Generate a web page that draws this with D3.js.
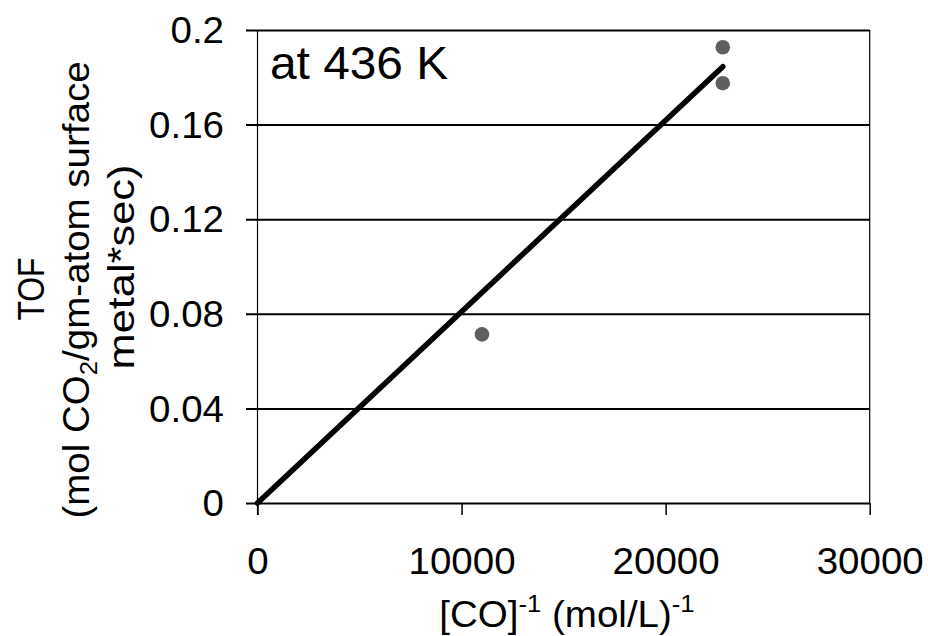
<!DOCTYPE html>
<html><head><meta charset="utf-8">
<script src="https://cdn.jsdelivr.net/npm/d3@7"></script>
<style>
body{margin:0;background:#fff}
svg{display:block}
text{font-family:"Liberation Sans",Arial,Helvetica,sans-serif;fill:#000}
</style>
</head><body>
<svg id="chart" width="928" height="636"></svg>
<script>
// ---- data ----
const pointX = [11000, 22800, 22800];
const pointY = [0.0713, 0.1927, 0.1775];
const trendX = [0, 22800];
const trendY = [0, 0.1845];
const xTicks = [0, 10000, 20000, 30000];
const xTickLabels = ["0", "10000", "20000", "30000"];
const yTicks = [0, 0.04, 0.08, 0.12, 0.16, 0.2];
const yTickLabels = ["0", "0.04", "0.08", "0.12", "0.16", "0.2"];
const annotationText = "at 436 K";

// ---- layout ----
const X0 = 257.5, X1 = 869.7, Y0 = 503, Y1 = 30;
const SX = 1.07;
const svg = d3.select("#chart");
const x = d3.scaleLinear().domain([0, 30000]).range([X0, X1]);
const y = d3.scaleLinear().domain([0, 0.2]).range([Y0, Y1]);

// gridlines (horizontal, extending left as ticks)
const grid = svg.append("g").attr("transform", `translate(${X0},0)`)
  .call(d3.axisLeft(y).tickValues(yTicks).tickSizeInner(-(X1 - X0)).tickSizeOuter(0).tickFormat(""));
grid.select(".domain").remove();
grid.selectAll(".tick line").attr("stroke", "#000").attr("stroke-width", 2).attr("x1", -11.5);

// y tick labels
const yAxis = svg.append("g").attr("transform", `translate(${X0},0)`)
  .call(d3.axisLeft(y).tickValues(yTicks).tickSize(0).tickFormat((d, i) => yTickLabels[i]));
yAxis.select(".domain").remove();
yAxis.selectAll(".tick line").remove();
yAxis.selectAll(".tick text")
  .attr("x", null).attr("dy", "0.35em")
  .attr("transform", `translate(-33.5,0) scale(${SX},1)`)
  .attr("text-anchor", "end")
  .style("font-size", "36px");

// x axis ticks + labels
const xAxis = svg.append("g").attr("transform", `translate(0,${Y0})`)
  .call(d3.axisBottom(x).tickValues(xTicks).tickSizeInner(12).tickSizeOuter(0).tickFormat((d, i) => xTickLabels[i]));
xAxis.select(".domain").remove();
xAxis.selectAll(".tick line").attr("stroke", "#000").attr("stroke-width", 1.5);
xAxis.selectAll(".tick text")
  .attr("y", null).attr("dy", null)
  .attr("transform", `translate(0,71.3) scale(${SX},1)`)
  .attr("text-anchor", "middle")
  .style("font-size", "36px");

// y axis line and right border
svg.append("line").attr("x1", X0).attr("x2", X0).attr("y1", Y1).attr("y2", Y0 + 12)
  .attr("stroke", "#000").attr("stroke-width", 1.2);
svg.append("line").attr("x1", X1).attr("x2", X1).attr("y1", Y1).attr("y2", Y0)
  .attr("stroke", "#000").attr("stroke-width", 1.2);

// trend line
const trendData = trendX.map((v, i) => [v, trendY[i]]);
svg.append("path").datum(trendData)
  .attr("d", d3.line().x(d => x(d[0])).y(d => y(d[1])))
  .attr("fill", "none").attr("stroke", "#000").attr("stroke-width", 5.5)
  .attr("stroke-linecap", "round");

// points
svg.append("g").selectAll("circle").data(pointX.map((v, i) => [v, pointY[i]]))
  .join("circle")
  .attr("cx", d => x(d[0])).attr("cy", d => y(d[1])).attr("r", 7.3)
  .attr("fill", "#5f5f5f");

// annotation
svg.append("text").attr("transform", `translate(270,79.3) scale(1.04,1)`)
  .style("font-size", "46px").text(annotationText);

// x title
const xt = svg.append("text").attr("transform", `translate(567,627) scale(${SX},1)`)
  .attr("text-anchor", "middle").style("font-size", "36px");
xt.append("tspan").text("[CO]");
xt.append("tspan").attr("dy", -15).style("font-size", "24px").text("-1");
xt.append("tspan").attr("dy", 15).text(" (mol/L)");
xt.append("tspan").attr("dy", -15).style("font-size", "24px").text("-1");

// y title (three lines)
svg.append("text").attr("transform", "translate(43.5,289) rotate(-90)")
  .attr("text-anchor", "middle").style("font-size", "36px")
  .attr("textLength", 63).attr("lengthAdjust", "spacingAndGlyphs").text("TOF");
const yt2 = svg.append("text").attr("transform", `translate(89,290) rotate(-90) scale(${SX},1)`)
  .attr("text-anchor", "middle").style("font-size", "36px");
yt2.append("tspan").text("(mol CO");
yt2.append("tspan").attr("dy", 8).style("font-size", "24px").text("2");
yt2.append("tspan").attr("dy", -8).text("/gm-atom surface");
svg.append("text").attr("transform", `translate(133.5,267) rotate(-90)`)
  .attr("text-anchor", "middle").style("font-size", "37px")
  .attr("textLength", 205).attr("lengthAdjust", "spacingAndGlyphs").text("metal*sec)");
</script>
</body></html>
